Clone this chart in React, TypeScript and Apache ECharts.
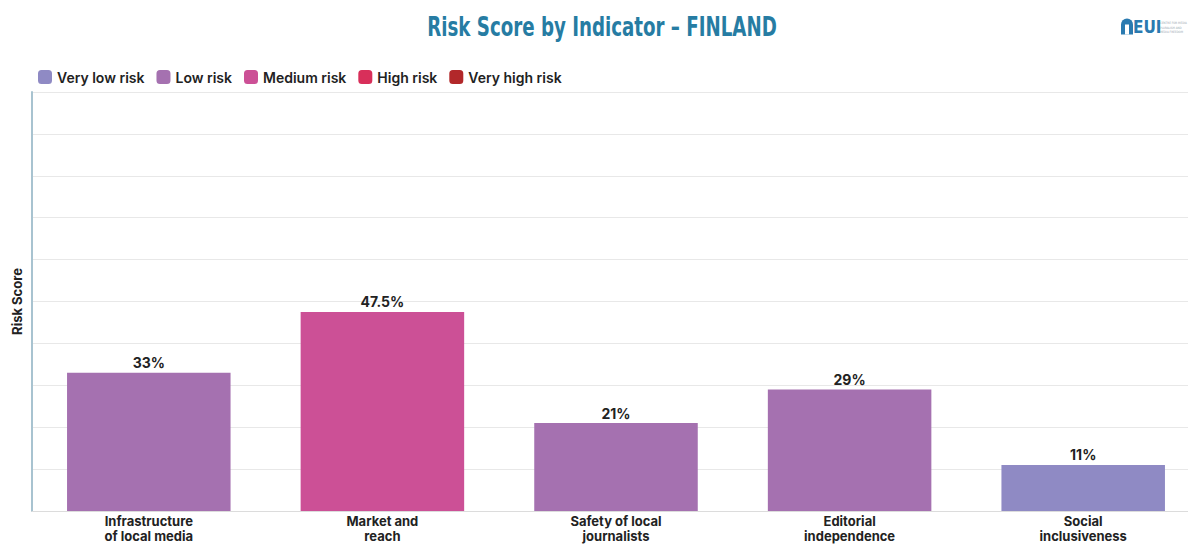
import React, { useEffect, useRef } from "react";
import * as echarts from "echarts";

const categories = [
  "Infrastructure\nof local media",
  "Market and\nreach",
  "Safety of local\njournalists",
  "Editorial\nindependence",
  "Social\ninclusiveness",
];
const scores = [33, 47.5, 21, 29, 11];
const scoreLabels = ["33%", "47.5%", "21%", "29%", "11%"];
const riskLevels = ["Low risk", "Medium risk", "Low risk", "Low risk", "Very low risk"];
const legendNames = ["Very low risk", "Low risk", "Medium risk", "High risk", "Very high risk"];
const legendColors = ["#8f8ac4", "#a571b0", "#cc5096", "#d82f5a", "#b2282a"];
const yTicks = [0, 10, 20, 30, 40, 50, 60, 70, 80, 90, 100];

export default function App() {
  const ref = useRef<HTMLDivElement>(null);
  useEffect(() => {
    if (!ref.current) return;
    const chart = echarts.init(ref.current, undefined, { renderer: "svg" });
    const series = legendNames.map((name, li) => ({
      name,
      type: "bar" as const,
      stack: "risk",
      barCategoryGap: "30%",
      itemStyle: { color: legendColors[li] },
      label: {
        show: true,
        position: "top" as const,
        distance: 3,
        color: "#222",
        fontFamily: "Inter",
        fontWeight: 700,
        fontSize: 14,
        formatter: (p: any) => scoreLabels[p.dataIndex],
      },
      data: scores.map((v, i) => (riskLevels[i] === name ? v : "-")),
    }));
    chart.setOption({
      animation: false,
      backgroundColor: "#ffffff",
      legend: {
        data: legendNames,
        left: 33,
        top: 65,
        icon: "roundRect",
        itemWidth: 14,
        itemHeight: 14,
        itemGap: 12,
        textStyle: { fontFamily: "Inter", fontWeight: 600, fontSize: 14, color: "#222" },
      },
      grid: {
        left: 32,
        width: 1168,
        top: 92,
        bottom: 33,
        containLabel: false,
        outerBoundsMode: "none",
      },
      xAxis: {
        type: "category",
        data: categories,
        axisLine: { lineStyle: { color: "#dcdcdc", width: 1 } },
        axisTick: { show: false },
        axisLabel: {
          color: "#222",
          fontFamily: "Inter",
          fontWeight: 700,
          fontSize: 13,
          lineHeight: 15,
          margin: 2,
        },
      },
      yAxis: {
        type: "value",
        min: yTicks[0],
        max: yTicks[yTicks.length - 1],
        interval: yTicks[1] - yTicks[0],
        name: "Risk Score",
        nameLocation: "middle",
        nameGap: 9,
        nameTextStyle: { fontFamily: "Inter", fontWeight: 700, fontSize: 13, color: "#222" },
        axisLine: { show: true, lineStyle: { color: "#a8c3d0", width: 2 } },
        axisTick: { show: false },
        axisLabel: { show: false },
        splitLine: { lineStyle: { color: "#e8e8e8", width: 1 } },
      },
      series,
      graphic: [
        {
          type: "text",
          x: 602,
          y: 27,
          scaleX: 0.75,
          style: {
            text: "Risk Score by Indicator – FINLAND",
            fill: "#267ca3",
            fontFamily: "DejaVu Sans Condensed, sans-serif",
            fontWeight: 700,
            fontSize: 27,
            textAlign: "center",
            textVerticalAlign: "middle",
          },
        },
        {
          type: "group",
          left: 1121,
          top: 18,
          children: [
            {
              type: "rect",
              shape: { x: 0, y: 2, width: 12, height: 16, r: [6, 6, 0, 0] },
              style: { fill: "#2a7ab0" },
            },
            {
              type: "rect",
              shape: { x: 4, y: 8, width: 4, height: 10 },
              style: { fill: "#ffffff" },
            },
            {
              type: "text",
              x: 12,
              y: 10,
              style: {
                text: "EUI",
                fill: "#2a7ab0",
                fontFamily: "DejaVu Sans Condensed, sans-serif",
                fontWeight: 700,
                fontSize: 17,
                textVerticalAlign: "middle",
              },
            },
            {
              type: "text",
              x: 39,
              y: 4,
              style: {
                text: "CENTRE FOR MEDIA\nPLURALISM AND\nMEDIA FREEDOM",
                fill: "#9aa7b2",
                fontFamily: "DejaVu Sans Condensed, sans-serif",
                fontSize: 3,
                lineHeight: 4.5,
              },
            },
          ],
        },
      ],
    });
    return () => chart.dispose();
  }, []);
  return (
    <div
      ref={ref}
      style={{ position: "absolute", left: 0, top: 0, width: 1188, height: 544, background: "#fff" }}
    />
  );
}
